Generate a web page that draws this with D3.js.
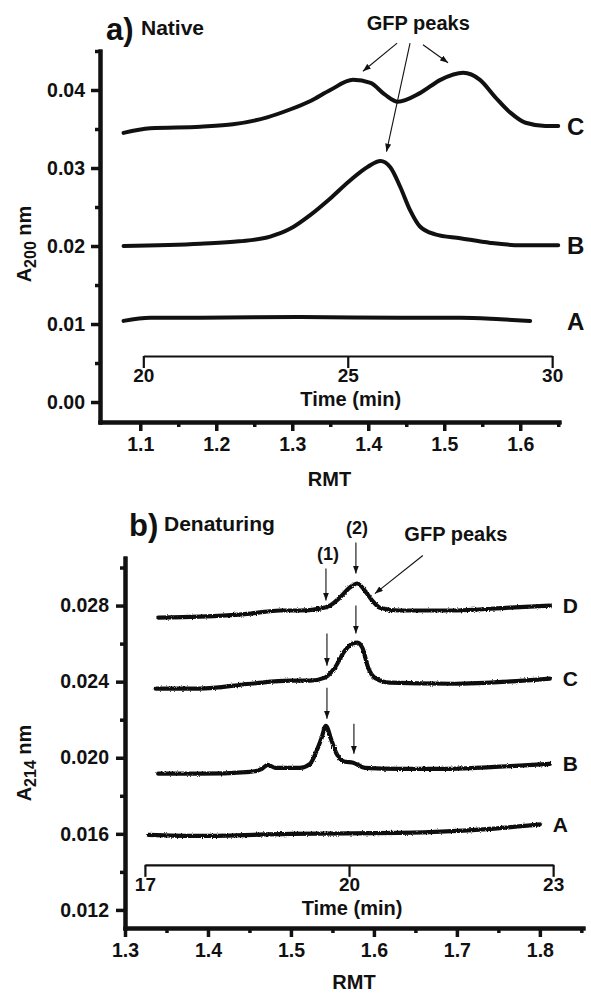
<!DOCTYPE html>
<html>
<head>
<meta charset="utf-8">
<script src="https://cdn.jsdelivr.net/npm/d3@7"></script>
<style>
  body { margin: 0; background: #fff; }
  svg { display: block; }
</style>
</head>
<body>
<svg></svg>
<script>
const size = { w: 591, h: 993 };
const font = "'Liberation Sans', Arial, Helvetica, sans-serif";

// ---- panel a) Native : [RMT, absorbance]
const nativeC = [[1.078,0.0345],[1.113,0.0351],[1.179,0.0353],[1.222,0.0356],[1.267,0.0365],[1.297,0.0375],
  [1.324,0.0386],[1.350,0.0400],[1.380,0.0413],[1.403,0.0409],[1.422,0.0394],[1.439,0.0385],[1.468,0.0396],
  [1.495,0.0413],[1.525,0.0422],[1.547,0.0413],[1.567,0.0391],[1.587,0.0371],[1.607,0.0358],[1.633,0.0354],[1.650,0.0354]];
const nativeB = [[1.078,0.0200],[1.179,0.0203],[1.230,0.0206],[1.271,0.0212],[1.297,0.0222],[1.324,0.0240],
  [1.350,0.0261],[1.376,0.0284],[1.400,0.0302],[1.416,0.0309],[1.429,0.0301],[1.442,0.0276],[1.455,0.0246],
  [1.468,0.0225],[1.488,0.0215],[1.521,0.0210],[1.561,0.0204],[1.600,0.0201],[1.650,0.0201]];
const nativeA = [[1.078,0.0104],[1.113,0.0108],[1.179,0.0108],[1.311,0.0109],[1.442,0.0108],[1.521,0.0108],
  [1.574,0.0106],[1.613,0.0104]];
const nativeSeries = [
  { name: "C", pts: nativeC },
  { name: "B", pts: nativeB },
  { name: "A", pts: nativeA }
];
const nativeYTicks = [0.00, 0.01, 0.02, 0.03, 0.04];
const nativeYMinor = [0.005, 0.015, 0.025, 0.035, 0.045];
const nativeXTicks = [1.1, 1.2, 1.3, 1.4, 1.5, 1.6];
const nativeXMinor = [1.15, 1.25, 1.35, 1.45, 1.55, 1.65];
const nativeTimeTicks = [20, 25, 30];
const nativeTimeRMT = [1.104, 1.642]; // RMT at first / last time tick
// GFP arrows: [tailRMT, tailVal, tipRMT, tipVal]
const nativeArrows = [[1.438,0.0460,1.393,0.0424],[1.455,0.0460,1.424,0.0321],[1.472,0.0458,1.505,0.0435]];

// ---- panel b) Denaturing
const denatD = [[1.340,0.02737],[1.390,0.02742],[1.451,0.02758],[1.487,0.02774],[1.511,0.02774],[1.535,0.02784],
  [1.547,0.02800],[1.559,0.02842],[1.571,0.02895],[1.580,0.02916],[1.589,0.02879],[1.598,0.02826],[1.607,0.02789],
  [1.631,0.02774],[1.692,0.02774],[1.764,0.02789],[1.812,0.02800]];
const denatC = [[1.337,0.02363],[1.390,0.02363],[1.451,0.02389],[1.499,0.02405],[1.523,0.02405],[1.541,0.02421],
  [1.553,0.02474],[1.565,0.02563],[1.574,0.02600],[1.580,0.02605],[1.586,0.02579],[1.593,0.02474],[1.601,0.02421],
  [1.619,0.02395],[1.692,0.02389],[1.812,0.02416]];
const denatB = [[1.340,0.01916],[1.390,0.01916],[1.451,0.01926],[1.465,0.01942],[1.472,0.01963],[1.481,0.01947],
  [1.511,0.01947],[1.523,0.01968],[1.531,0.02037],[1.537,0.02105],[1.542,0.02168],[1.549,0.02089],[1.555,0.02021],
  [1.565,0.01979],[1.575,0.01974],[1.589,0.01947],[1.631,0.01942],[1.692,0.01942],[1.752,0.01953],[1.812,0.01968]];
const denatA = [[1.328,0.01595],[1.390,0.01589],[1.499,0.01600],[1.631,0.01605],[1.740,0.01626],[1.800,0.01650]];
const denatSeries = [
  { name: "D", pts: denatD },
  { name: "C", pts: denatC },
  { name: "B", pts: denatB },
  { name: "A", pts: denatA }
];
const denatYTicks = [0.012, 0.016, 0.020, 0.024, 0.028];
const denatYMinor = [0.014, 0.018, 0.022, 0.026, 0.030];
const denatXTicks = [1.3, 1.4, 1.5, 1.6, 1.7, 1.8];
const denatXMinor = [1.35, 1.45, 1.55, 1.65, 1.75, 1.85];
const denatTimeTicks = [17, 20, 23];
const denatTimeRMT = [1.324, 1.816];
const denatArrows = [
  [1.5422,0.02995,1.5422,0.02826],[1.5783,0.03132,1.5783,0.02968],
  [1.5434,0.02653,1.5434,0.02484],[1.5783,0.02800,1.5783,0.02653],
  [1.5434,0.02368,1.5434,0.02205],[1.5759,0.02179,1.5759,0.02021],
  [1.6590,0.03063,1.6012,0.02863]
];
const denatNotes = [["(1)",1.5446,0.03074],["(2)",1.5795,0.03211]];

const svg = d3.select("svg").attr("width", size.w).attr("height", size.h);

const defs = svg.append("defs");
defs.append("marker")
  .attr("id", "head")
  .attr("markerUnits", "userSpaceOnUse")
  .attr("viewBox", "0 0 8 6")
  .attr("refX", 8).attr("refY", 3)
  .attr("markerWidth", 8).attr("markerHeight", 6)
  .attr("orient", "auto")
  .append("path").attr("d", "M0,0L8,3L0,6z").attr("fill", "#111");

const rough = defs.append("filter").attr("id", "rough")
  .attr("x", "-5%").attr("y", "-20%").attr("width", "110%").attr("height", "140%");
rough.append("feTurbulence").attr("type", "fractalNoise").attr("baseFrequency", 0.8)
  .attr("numOctaves", 1).attr("seed", 4).attr("result", "n");
rough.append("feDisplacementMap").attr("in", "SourceGraphic").attr("in2", "n")
  .attr("scale", 3).attr("xChannelSelector", "R").attr("yChannelSelector", "G");

function drawPanel(p) {
  const g = svg.append("g");
  const x = d3.scaleLinear().domain(p.xDomain).range(p.xRange);
  const y = d3.scaleLinear().domain(p.yDomain).range(p.yRange);

  // minor ticks first
  g.append("g").attr("transform", `translate(0,${p.yRange[0]})`)
    .call(d3.axisBottom(x).tickValues(p.xMinor).tickSize(5).tickSizeOuter(0).tickFormat(""));
  g.append("g").attr("transform", `translate(${p.xRange[0]},0)`)
    .call(d3.axisLeft(y).tickValues(p.yMinor).tickSize(5).tickSizeOuter(0).tickFormat(""));

  const xAx = g.append("g").attr("transform", `translate(0,${p.yRange[0]})`)
    .call(d3.axisBottom(x).tickValues(p.xTicks).tickSize(9).tickSizeOuter(0).tickPadding(p.xPad)
      .tickFormat(d3.format(".1f")));
  const yAx = g.append("g").attr("transform", `translate(${p.xRange[0]},0)`)
    .call(d3.axisLeft(y).tickValues(p.yTicks).tickSize(9).tickSizeOuter(0).tickPadding(p.yPad)
      .tickFormat(d3.format(p.yFmt)));

  g.selectAll(".domain").attr("stroke", "#111").attr("stroke-width", 4).attr("stroke-linecap", "square");
  g.selectAll(".tick line").attr("stroke", "#111").attr("stroke-width", 3.5);
  [xAx, yAx].forEach((a) => a.selectAll("text")
    .attr("font-family", font).attr("font-size", 19.5).attr("font-weight", "bold").attr("fill", "#111"));

  // axis titles
  g.append("text")
    .attr("x", (p.xRange[0] + p.xRange[1]) / 2).attr("y", p.yRange[0] + p.rmtOff)
    .attr("text-anchor", "middle").attr("font-family", font).attr("font-size", 20)
    .attr("font-weight", "bold").attr("fill", "#111").text("RMT");

  const yl = g.append("text")
    .attr("transform", `translate(${p.yLabelX},${p.yLabelY}) rotate(-90)`)
    .attr("text-anchor", "middle").attr("font-family", font).attr("font-size", 20)
    .attr("font-weight", "bold").attr("fill", "#111");
  yl.append("tspan").text("A");
  yl.append("tspan").attr("font-size", 16).attr("dy", 5).text(p.wave);
  yl.append("tspan").attr("dy", -5).text(" nm");

  // title
  g.append("text").attr("x", p.titleX).attr("y", p.titleY)
    .attr("font-family", font).attr("font-size", 31).attr("font-weight", "bold").attr("fill", "#111")
    .text(p.letter);
  g.append("text").attr("x", p.titleX + 35).attr("y", p.titleY - 5)
    .attr("font-family", font).attr("font-size", 21).attr("font-weight", "bold").attr("fill", "#111")
    .text(p.title);

  // inner time axis
  const t = d3.scaleLinear().domain([p.timeTicks[0], p.timeTicks[p.timeTicks.length - 1]])
    .range(p.timeRMT.map(x));
  const tAx = g.append("g").attr("transform", `translate(0,${y(p.timeAt)})`)
    .call(d3.axisBottom(t).tickValues(p.timeTicks).tickSize(12).tickSizeOuter(0).tickPadding(1)
      .tickFormat(d3.format("d")));
  tAx.select(".domain").attr("stroke", "#111").attr("stroke-width", 2.2);
  tAx.selectAll(".tick line").attr("stroke", "#111").attr("stroke-width", 2.2);
  tAx.selectAll("text").attr("font-family", font).attr("font-size", 19).attr("font-weight", "bold")
    .attr("fill", "#111");
  g.append("text")
    .attr("x", t(p.timeTicks[1]) + 3).attr("y", y(p.timeAt) + 50)
    .attr("text-anchor", "middle").attr("font-family", font).attr("font-size", 20)
    .attr("font-weight", "bold").attr("fill", "#111").text("Time (min)");

  // traces
  const line = d3.line().x((d) => x(d[0])).y((d) => y(d[1])).curve(d3.curveMonotoneX);
  const tr = g.append("g");
  if (p.rough) tr.attr("filter", "url(#rough)");
  tr.selectAll("path").data(p.series).join("path")
    .attr("d", (d) => line(d.pts))
    .attr("fill", "none").attr("stroke", "#111").attr("stroke-width", p.lineW)
    .attr("stroke-linecap", "round").attr("stroke-linejoin", "round");

  g.selectAll(".lbl").data(p.series).join("text")
    .attr("x", (d) => p.labelX != null ? p.labelX : x(d.pts[d.pts.length - 1][0]) + 13)
    .attr("y", (d) => y(d.pts[d.pts.length - 1][1]))
    .attr("dy", "0.36em").attr("font-family", font).attr("font-size", p.labelSize)
    .attr("font-weight", "bold").attr("fill", "#111").text((d) => d.name);

  // annotations
  g.selectAll(".arr").data(p.arrows).join("line")
    .attr("x1", (d) => x(d[0])).attr("y1", (d) => y(d[1]))
    .attr("x2", (d) => x(d[2])).attr("y2", (d) => y(d[3]))
    .attr("stroke", "#111").attr("stroke-width", 1.1).attr("marker-end", "url(#head)");
  g.append("text").attr("x", x(p.gfp[0])).attr("y", y(p.gfp[1]))
    .attr("dy", "0.36em").attr("text-anchor", "middle")
    .attr("font-family", font).attr("font-size", 20).attr("font-weight", "bold").attr("fill", "#111")
    .text("GFP peaks");
  g.selectAll(".note").data(p.notes || []).join("text")
    .attr("x", (d) => x(d[1])).attr("y", (d) => y(d[2]))
    .attr("dy", "0.36em").attr("text-anchor", "middle")
    .attr("font-family", font).attr("font-size", 18).attr("font-weight", "bold").attr("fill", "#111")
    .text((d) => d[0]);
}

drawPanel({
  xDomain: [1.047, 1.651], xRange: [100, 559],
  yDomain: [-0.00256, 0.045], yRange: [422, 51],
  xTicks: nativeXTicks, xMinor: nativeXMinor, yTicks: nativeYTicks, yMinor: nativeYMinor,
  yFmt: ".2f", xPad: 6, yPad: 6, rmtOff: 64,
  yLabelX: 31, yLabelY: 244, wave: "200",
  letter: "a)", title: "Native", titleX: 106, titleY: 40,
  timeTicks: nativeTimeTicks, timeRMT: nativeTimeRMT, timeAt: 0.0059,
  series: nativeSeries, lineW: 4, labelX: 567, labelSize: 24, rough: false,
  arrows: nativeArrows, gfp: [1.4658, 0.0486]
});

drawPanel({
  xDomain: [1.3, 1.852], xRange: [125, 583],
  yDomain: [0.01105, 0.0305], yRange: [928, 558],
  xTicks: denatXTicks, xMinor: denatXMinor, yTicks: denatYTicks, yMinor: denatYMinor,
  yFmt: ".3f", xPad: 6, yPad: 7, rmtOff: 61,
  yLabelX: 31, yLabelY: 763, wave: "214",
  letter: "b)", title: "Denaturing", titleX: 129, titleY: 536,
  timeTicks: denatTimeTicks, timeRMT: denatTimeRMT, timeAt: 0.01437,
  series: denatSeries, lineW: 4.2, labelX: null, labelSize: 21, rough: true,
  arrows: denatArrows, gfp: [1.6988, 0.03179], notes: denatNotes
});
</script>
</body>
</html>
